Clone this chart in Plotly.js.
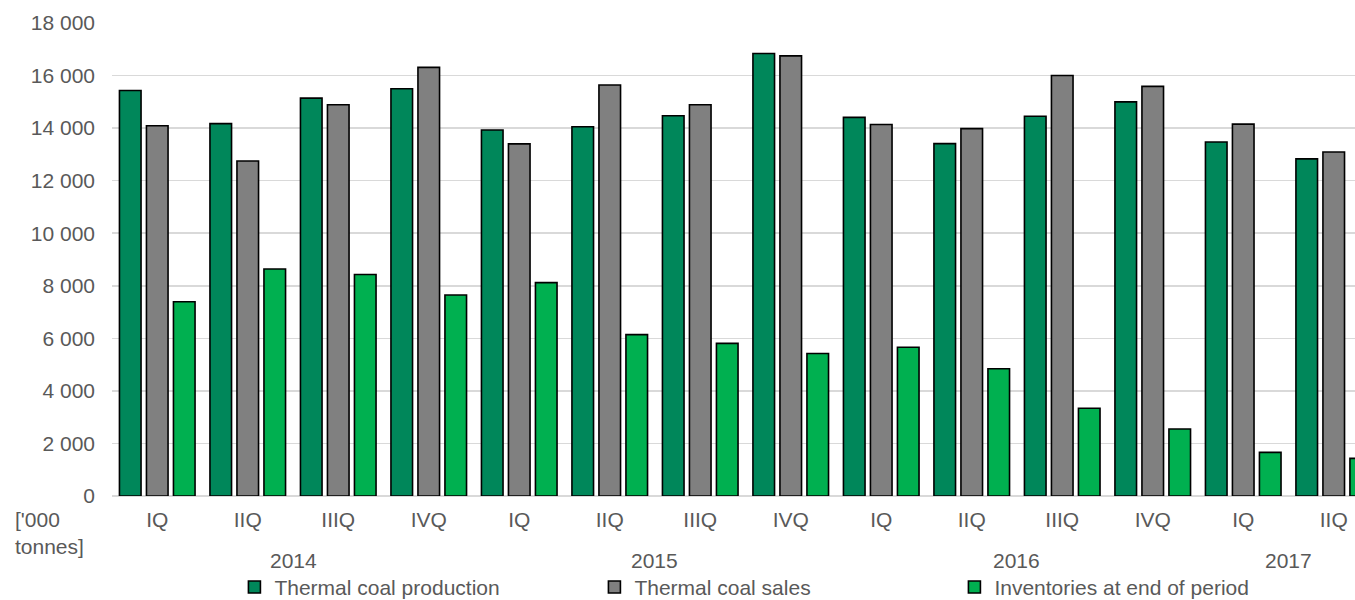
<!DOCTYPE html>
<html>
<head>
<meta charset="utf-8">
<script src="https://cdn.plot.ly/plotly-3.0.1.min.js"></script>
<style>html,body{margin:0;padding:0;background:#fff;}#chart{width:1355px;height:600px;}</style>
</head>
<body>
<div id="chart"></div>
<script>
const quarters = ['IQ','IIQ','IIIQ','IVQ','IQ','IIQ','IIIQ','IVQ','IQ','IIQ','IIIQ','IVQ','IQ','IIQ'];
const years = ['2014','2015','2016','2017'];
const quartersPerYear = [4,4,4,2];
const production = [15430,14170,15140,15500, 13930,14050,14470,16840, 14410,13410,14450,15000, 13470,12830];
const sales = [14090,12750,14890,16310, 13400,15640,14890,16750, 14140,13980,16000,15590, 14150,13090];
const inventories = [7390,8640,8430,7650, 8120,6140,5810,5420, 5660,4840,3340,2550, 1660,1430];
const seriesNames = ['Thermal coal production','Thermal coal sales','Inventories at end of period'];
const unitLabel = "['000<br>tonnes]";

const colors = ['#00875A','#808080','#00B050'];
const textColor = '#595959';
const FONT = 'Liberation Sans, Arial, sans-serif';
const FS = 21;
const idx = quarters.map((_, i) => i);

const traces = [production, sales, inventories].map((vals, k) => ({
  type: 'bar',
  name: seriesNames[k],
  x: idx,
  y: vals,
  marker: {color: colors[k], line: {color: '#000000', width: 1.6}},
  hoverinfo: 'skip'
}));

const annotations = [];
let start = 0;
years.forEach((yr, i) => {
  const n = quartersPerYear[i];
  annotations.push({
    text: yr, x: start + (n - 1) / 2, xref: 'x', y: -0.136, yref: 'paper',
    showarrow: false, xanchor: 'center', yanchor: 'middle',
    font: {family: FONT, size: FS, color: textColor}
  });
  start += n;
});
annotations.push({
  text: unitLabel, xref: 'paper', x: -0.08, yref: 'paper', y: -0.022,
  showarrow: false, xanchor: 'left', yanchor: 'top', align: 'left',
  font: {family: FONT, size: FS, color: textColor}
});

const layout = {
  width: 1355, height: 600,
  margin: {l: 112, r: 0, t: 23, b: 104},
  paper_bgcolor: '#ffffff', plot_bgcolor: '#ffffff',
  font: {family: FONT, size: FS, color: textColor},
  barmode: 'group', bargap: 0.105, bargroupgap: 0.2,
  separators: '. ',
  xaxis: {
    range: [-0.5, 13.235], tickvals: idx, ticktext: quarters,
    showgrid: false, zeroline: false, showline: false, ticks: '',
    tickfont: {family: FONT, size: FS, color: textColor},
    ticklabelstandoff: 9
  },
  yaxis: {
    range: [0, 18000], dtick: 2000, tick0: 0,
    tickformat: ',d', separatethousands: true,
    showgrid: true, gridcolor: '#d9d9d9', gridwidth: 1.5,
    zeroline: true, zerolinecolor: '#d9d9d9', zerolinewidth: 1.5,
    showline: false, ticks: '',
    tickfont: {family: FONT, size: FS, color: textColor},
    ticklabelstandoff: 16
  },
  showlegend: true,
  legend: {
    orientation: 'h', xref: 'container', yref: 'container',
    x: 0.173, y: 0.021, xanchor: 'left', yanchor: 'middle',
    entrywidth: 315, entrywidthmode: 'pixels', itemwidth: 30,
    font: {family: FONT, size: FS, color: textColor},
    bgcolor: 'rgba(0,0,0,0)', traceorder: 'normal'
  },
  annotations: annotations
};

Plotly.newPlot('chart', traces, layout, {staticPlot: true, displayModeBar: false});
</script>
</body>
</html>
